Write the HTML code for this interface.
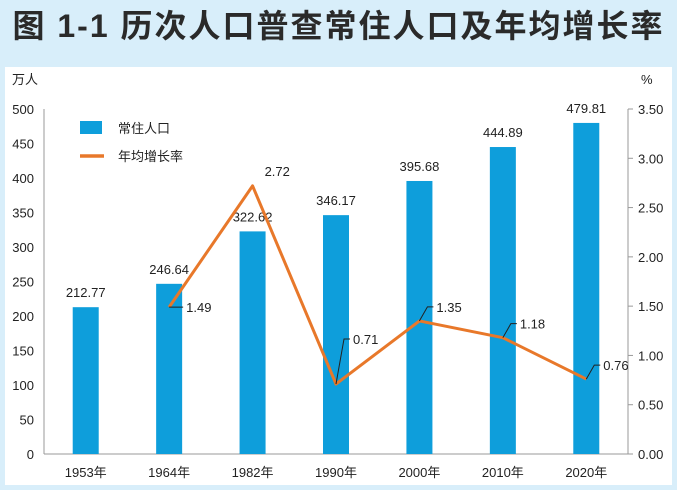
<!DOCTYPE html>
<html><head><meta charset="utf-8"><style>
body{margin:0;width:677px;height:490px;background:#d8eefa;overflow:hidden;font-family:"Liberation Sans","Noto Sans CJK SC",sans-serif}
#title{position:absolute;left:0;top:1px;width:677px;text-align:center;font-size:32px;font-weight:bold;color:#2a2a2a;letter-spacing:2px;white-space:nowrap}
#panel{position:absolute;left:5px;top:67px;width:667px;height:418px;background:#fff}
svg{position:absolute;left:0;top:0}
text{font-family:"Liberation Sans","Noto Sans CJK SC",sans-serif;font-size:13px;fill:#222}
</style></head><body>
<div id="title">图 1-1 历次人口普查常住人口及年均增长率</div>
<div id="panel"></div>
<svg id="chart" width="677" height="490"></svg>
<script>
const categories=["1953年","1964年","1982年","1990年","2000年","2010年","2020年"];
const population=[212.77,246.64,322.62,346.17,395.68,444.89,479.81];
const growth=[null,1.49,2.72,0.71,1.35,1.18,0.76];
const leftTicks=[0,50,100,150,200,250,300,350,400,450,500];
const rightTicks=["0.00","0.50","1.00","1.50","2.00","2.50","3.00","3.50"];
const NS="http://www.w3.org/2000/svg";
const svg=document.getElementById('chart');
const X0=44,X1=628,Y0=454,Y1=109;
const band=(X1-X0)/categories.length;
const xc=i=>X0+band*(i+0.5);
const yL=v=>Y0-(v/500)*(Y0-Y1);
const yR=v=>Y0-(v/3.5)*(Y0-Y1);
function mk(t,a,txt){const e=document.createElementNS(NS,t);for(const k in a)e.setAttribute(k,a[k]);if(txt!==undefined)e.textContent=txt;svg.appendChild(e);return e;}
let e;
e=mk('line',{x1:X0,y1:Y1,x2:X0,y2:Y0,stroke:'#999'});


e=mk('line',{x1:X1,y1:Y1,x2:X1,y2:Y0,stroke:'#999'});


e=mk('line',{x1:X0,y1:Y0,x2:X1,y2:Y0,stroke:'#999'});


leftTicks.forEach(v=>{e=mk('text',{x:34,y:yL(v)+5,'text-anchor':'end'},v);

});
rightTicks.forEach(v=>{const y=yR(parseFloat(v));mk('line',{x1:X1,y1:y,x2:X1+5,y2:y,stroke:'#999'});
e=mk('text',{x:638,y:y+5},v);

});
e=mk('text',{x:12,y:84},'万人');


e=mk('text',{x:641,y:84},'%');


const BW=26;
population.forEach((v,i)=>{
e=mk('rect',{x:xc(i)-BW/2,y:yL(v),width:BW,height:Y0-yL(v),fill:'#0e9edb'});


e=mk('text',{x:xc(i),y:yL(v)-10,'text-anchor':'middle'},v.toFixed(2));


e=mk('text',{x:xc(i),y:Y0+23,'text-anchor':'middle'},categories[i]);


});
let pts=[];growth.forEach((v,i)=>{if(v!==null)pts.push(xc(i)+','+yR(v));});
e=mk('polyline',{points:pts.join(' '),fill:'none',stroke:'#e8782a','stroke-width':3,'stroke-linejoin':'round'});


growth.forEach((v,i)=>{if(v===null)return;const x=xc(i),y=yR(v);
if(i===2){e=mk('text',{x:x+12,y:y-10},v.toFixed(2));}
else{const up=(i===1)?0:(i===3?-45:-14);
mk('path',{d:`M${x},${y} L${x+8},${y+up} L${x+14},${y+up}`,fill:'none',stroke:'#222','stroke-width':1});
e=mk('text',{x:x+17,y:y+up+5},v.toFixed(2));}

});
e=mk('rect',{x:80,y:121,width:22,height:13,fill:'#0e9edb'});


e=mk('text',{x:118,y:133},'常住人口');


e=mk('line',{x1:80,y1:156,x2:104,y2:156,stroke:'#e8782a','stroke-width':3.5});


e=mk('text',{x:118,y:161},'年均增长率');


</script>
</body></html>
